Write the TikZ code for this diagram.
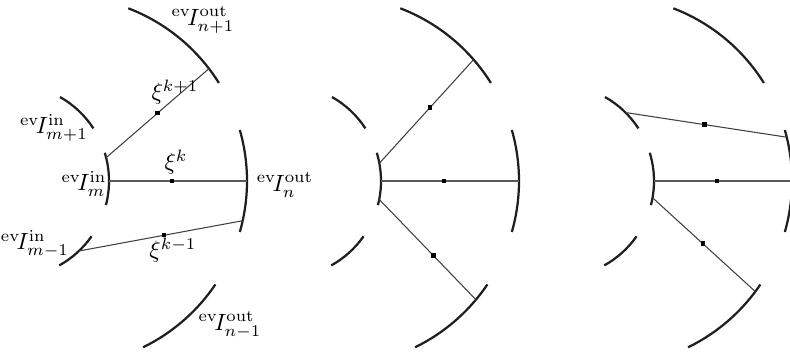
\documentclass[tikz,border=0pt]{standalone}
\usetikzlibrary{calc}
\tikzset{
  arcline/.style={line width=0.95pt, draw=black!88},
  conn/.style={line width=0.45pt, draw=black!75},
  hline/.style={line width=0.75pt, draw=black!65},
  dotbox/.style={rectangle, fill=black, inner sep=0pt, minimum size=1.9pt},
  lbl/.style={inner sep=0pt}
}
\newcommand\panelarcs[1]{%
  \coordinate (O#1) at (62,170);
  \coordinate (C#1) at (12.5,170);
  \draw[arcline] ($(O#1)+(32:185)$) arc[start angle=32,end angle=69,radius=185];
  \draw[arcline] ($(O#1)+(-16:185)$) arc[start angle=-16,end angle=16,radius=185];
  \draw[arcline] ($(O#1)+(-64:185)$) arc[start angle=-64,end angle=-34,radius=185];
  \draw[arcline] ($(C#1)+(33:96.5)$) arc[start angle=33,end angle=60.5,radius=96.5];
  \draw[arcline] ($(C#1)+(-14.5:96.5)$) arc[start angle=-14.5,end angle=17,radius=96.5];
  \draw[arcline] ($(C#1)+(-61:96.5)$) arc[start angle=-61,end angle=-35,radius=96.5];
  \coordinate (hs#1) at ($(C#1)+(0:96.5)$);
  \coordinate (he#1) at ($(O#1)+(0:185)$);
  \draw[hline] (hs#1) -- node[dotbox,pos=0.457] (hd#1) {} (he#1);
}
\begin{document}
\begin{tikzpicture}[x=0.425pt,y=0.425pt]
\useasboundingbox (0,0) rectangle (790,351);
\clip (0,0) rectangle (790,351);
% panel 1
\panelarcs{1}
\coordinate (a1) at ($(C1)+(14:96.5)$);
\coordinate (b1) at ($(O1)+(37.4:185)$);
\draw[conn] (a1) -- node[dotbox,pos=0.5] (da1) {} (b1);
\coordinate (c1) at ($(C1)+(-46.5:96.5)$);
\coordinate (e1) at ($(O1)+(-12.4:185)$);
\draw[conn] (c1) -- node[dotbox,pos=0.52] (dc1) {} (e1);
\node[lbl] (lout1) at (203,331) {${}^{\mathrm{ev}}\!I^{\mathrm{out}}_{n+1}$};
\node[lbl] (lxi1) at (175,259) {$\xi^{k+1}$};
\node[lbl] (lin1) at (54,223) {${}^{\mathrm{ev}}\!I^{\mathrm{in}}_{m+1}$};
\node[lbl] (lxi0) at (176,189) {$\xi^{k}$};
\node[lbl] (lin0) at (84,167) {${}^{\mathrm{ev}}\!I^{\mathrm{in}}_{m}$};
\node[lbl] (lout0) at (285,166) {${}^{\mathrm{ev}}\!I^{\mathrm{out}}_{n}$};
\node[lbl] (linm) at (35,107) {${}^{\mathrm{ev}}\!I^{\mathrm{in}}_{m-1}$};
\node[lbl] (lxim) at (173,101) {$\xi^{k-1}$};
\node[lbl] (loutm) at (230,26) {${}^{\mathrm{ev}}\!I^{\mathrm{out}}_{n-1}$};
% panel 2
\begin{scope}[shift={(272,0)}]
\panelarcs{2}
\coordinate (a2) at ($(C2)+(10.6:96.5)$);
\coordinate (b2) at ($(O2)+(41:185)$);
\draw[conn] (a2) -- node[dotbox,pos=0.54] (da2) {} (b2);
\coordinate (c2) at ($(C2)+(-11:96.5)$);
\coordinate (e2) at ($(O2)+(-39.9:185)$);
\draw[conn] (c2) -- node[dotbox,pos=0.56] (dc2) {} (e2);
\end{scope}
% panel 3
\begin{scope}[shift={(545,0)}]
\panelarcs{3}
\coordinate (a3) at ($(C3)+(45.2:96.5)$);
\coordinate (b3) at ($(O3)+(13.7:185)$);
\draw[conn] (a3) -- node[dotbox,pos=0.49] (da3) {} (b3);
\coordinate (c3) at ($(C3)+(-10:96.5)$);
\coordinate (e3) at ($(O3)+(-36.7:185)$);
\draw[conn] (c3) -- node[dotbox,pos=0.49] (dc3) {} (e3);
\end{scope}
\end{tikzpicture}
\end{document}
